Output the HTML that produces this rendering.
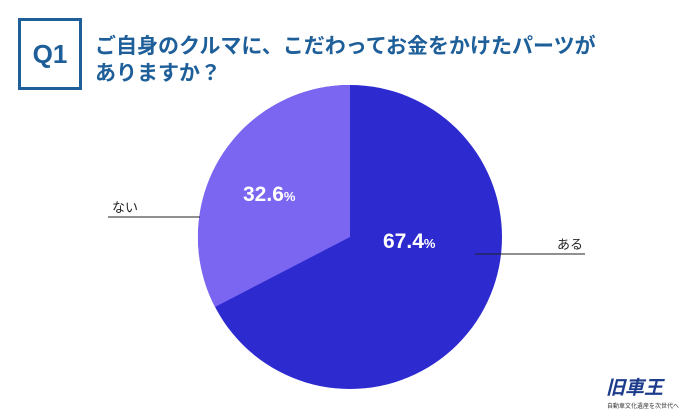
<!DOCTYPE html>
<html><head><meta charset="utf-8"><style>
body{margin:0;width:700px;height:420px;background:#fff;overflow:hidden;position:relative;font-family:"Liberation Sans","Noto Sans CJK JP",sans-serif}
.q{position:absolute;left:18px;top:18px;width:58px;height:66px;border:3px solid #1e5f9a;color:#1e5f9a;font-weight:bold;font-size:26px;line-height:66px;text-align:center}
.t{position:absolute;left:95px;top:33px;color:#1e5f9a;font-weight:bold;font-size:21px;line-height:27px}
</style></head><body>
<div class="q">Q1</div>
<div class="t">ご自身のクルマに、こだわってお金をかけたパーツが<br>ありますか？</div>
<svg width="700" height="420" style="position:absolute;left:0;top:0">
<circle cx="350" cy="237" r="152" fill="#2d2ad0"/>
<path d="M350 237 L350 85 A152 152 0 0 0 215 307 Z" fill="#7b66f2"/>
<line x1="108" y1="217" x2="200" y2="217" stroke="#222" stroke-width="1"/>
<line x1="475" y1="254" x2="585" y2="254" stroke="#222" stroke-width="1"/>
<text x="112" y="212" font-size="13" fill="#222" font-family="Noto Sans CJK JP,sans-serif">ない</text>
<text x="557" y="249" font-size="13" fill="#222" font-family="Noto Sans CJK JP,sans-serif">ある</text>
<text x="243" y="201" font-size="21" font-weight="bold" fill="#fff" font-family="Liberation Sans,sans-serif">32.6<tspan font-size="13">%</tspan></text>
<text x="383" y="248" font-size="21" font-weight="bold" fill="#fff" font-family="Liberation Sans,sans-serif">67.4<tspan font-size="13">%</tspan></text>
<text x="606" y="394" font-size="19" font-weight="bold" font-style="italic" fill="#1e3c8c" font-family="Noto Sans CJK JP,sans-serif">旧車王</text>
<text x="607" y="408" font-size="6" fill="#333" font-family="Noto Sans CJK JP,sans-serif">自動車文化遺産を次世代へ</text>
</svg>
</body></html>
